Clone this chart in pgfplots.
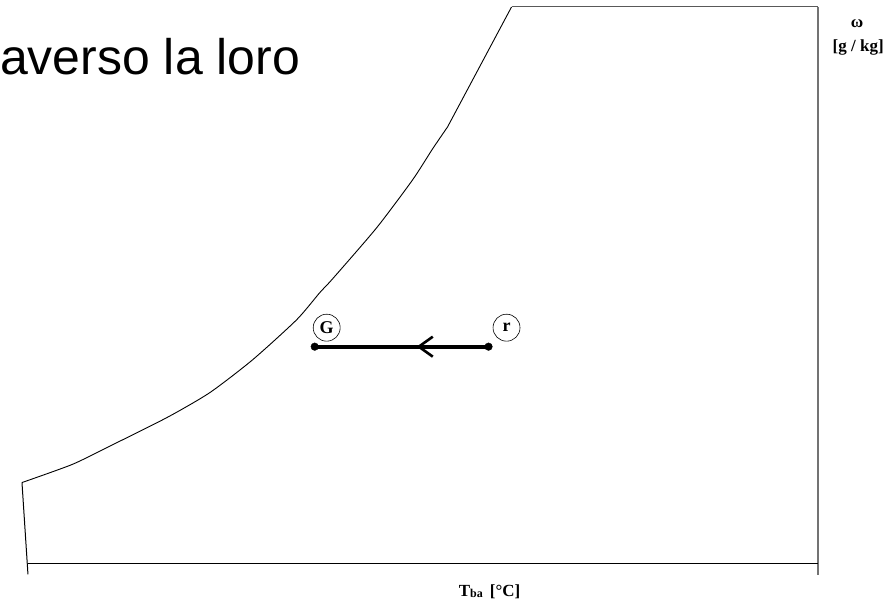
\documentclass[border=0pt]{standalone}
\usepackage{fontspec}
\setmainfont{Liberation Serif}
\newfontfamily\slidefont{Liberation Sans}
\usepackage{pgfplots}
\pgfplotsset{compat=1.18}
\usetikzlibrary{arrows.meta,decorations.markings}

\begin{document}
\begin{tikzpicture}
\begin{axis}[
  width=887pt, height=608pt, scale only axis,
  xmin=0, xmax=887, ymin=0, ymax=608,
  hide axis, clip=false,
]
% keeps the page as large as the axis
\addplot[draw=none] coordinates {(0,0) (887,608)};
% saturation curve (pixel units, y measured from the bottom)
\addplot[black, line width=0.9pt, smooth, tension=0.4] coordinates {
  (22,125) (72,143) (107,160) (167,190) (210,215) (253,248)
  (297,288) (320,315) (333,329) (377,380) (413,428) (433,459) (448,481)
};
\addplot[black, line width=0.9pt] coordinates {(448,481) (512,601)};
% frame
\addplot[black!65, line width=1pt] coordinates {(512,601) (819,601)};
\addplot[black!55, line width=1.8pt] coordinates {(819,601) (819,32)};
\addplot[black, line width=1.2pt] coordinates {(28,44) (819,44)};
\addplot[black, line width=1pt] coordinates {(22,125) (28,33)};
% process r -> G
\addplot[black, line width=4pt, postaction={decorate},
  decoration={markings, mark=at position 0.414 with
    {\arrow[line width=2.6pt]{Straight Barb[length=14pt,width=20pt]}}}]
  coordinates {(489,261) (315,261)};
\addplot[only marks, mark=*, mark size=3.8pt, black] coordinates {(315,261) (489,261)};
\node[circle, draw, line width=0.6pt, inner sep=0pt, minimum size=27pt,
  font=\fontsize{18}{18}\selectfont\bfseries] at (axis cs:327,280) {G};
\node[circle, draw, line width=0.6pt, inner sep=0pt, minimum size=27pt,
  font=\fontsize{18}{18}\selectfont\bfseries] at (axis cs:507,280) {r};
% labels
\node[anchor=base, font=\fontsize{17}{17}\selectfont\bfseries] at (axis cs:858,580) {ω};
\node[anchor=base, font=\fontsize{17}{17}\selectfont\bfseries] at (axis cs:859,556) {[g / kg]};
\node[anchor=base, font=\fontsize{17}{17}\selectfont\bfseries] at (axis cs:490,11)
  {T{\fontsize{12}{12}\selectfont\raisebox{-1.5pt}{ba}}\ \,[°C]};
\node[anchor=base west, inner sep=0pt, font=\fontsize{50}{50}\slidefont] at (axis cs:0,533) {averso la loro};
\end{axis}
\end{tikzpicture}
\end{document}
